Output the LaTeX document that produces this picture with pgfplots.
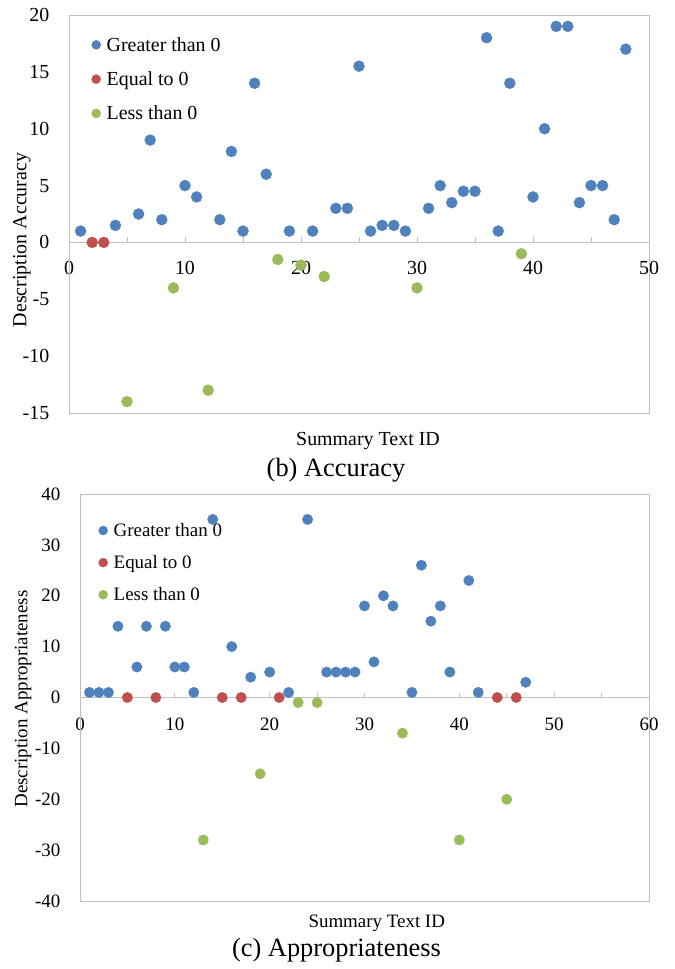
\documentclass[border=0pt]{standalone}
\usepackage{fontspec}
\setmainfont{Liberation Serif}
\usepackage{pgfplots}
\pgfplotsset{compat=1.18}
\definecolor{cblue}{HTML}{4F81BD}
\definecolor{cred}{HTML}{C0504D}
\definecolor{cgreen}{HTML}{9BBB59}
\definecolor{frame}{HTML}{BFBFBF}
\pgfplotsset{
  pt/.style={only marks, mark=*, mark size=#1,
    legend image code/.code={\draw[##1, mark size=4.5bp] plot coordinates {(0bp,0bp)};}},
  mystyle/.style={
    scale only axis,
    axis x line=middle, axis y line=left,
    axis line style={frame, -, line width=0.9bp},
    hide obscured x ticks=false, hide obscured y ticks=false,
    /pgf/number format/assume math mode=true,
    xticklabel style={anchor=base, inner sep=0pt, yshift=-30bp},
    yticklabel style={anchor=east, inner sep=0pt, xshift=-17bp},
    ytick style={draw=none},
    xtick style={frame, line width=0.9bp, yshift=2.5bp},
    major tick length=5bp,
    clip=false,
    legend cell align=left,
  },
}
\begin{document}
\begin{tikzpicture}
\useasboundingbox (0,0) rectangle (675bp,-969bp);
% ---------- (b) Accuracy ----------
\begin{axis}[mystyle,
  at={(69bp,-413bp)}, anchor=south west,
  width=580bp, height=398bp,
  xmin=0, xmax=50, ymin=-15, ymax=20,
  xtick={0,5,...,50}, xticklabels={0,,10,,20,,30,,40,,50},
  ytick={-15,-10,...,20},
  tick label style={font=\fontsize{20}{24}\selectfont},
  xlabel={Summary Text ID}, ylabel={Description Accuracy},
  every axis x label/.style={at={(axis description cs:0.5155,-0.0804)}, anchor=base, font=\fontsize{20}{24}\selectfont},
  every axis y label/.style={at={(axis description cs:-0.081,0.4347)}, rotate=90, anchor=center, font=\fontsize{20}{24}\selectfont},
  legend style={at={(axis description cs:0,1)}, anchor=north west, xshift=22.5bp, yshift=-20bp,
    draw=none, fill=none, inner sep=0pt, row sep=15bp, column sep=4bp, font=\fontsize{20}{24}\selectfont},
]
\draw[frame, line width=0.9bp] (rel axis cs:0,0) rectangle (rel axis cs:1,1);
\addplot[pt=5.5bp, cblue] coordinates {
(1,1)(4,1.5)(6,2.5)(7,9)(8,2)(10,5)(11,4)(13,2)(14,8)(15,1)(16,14)(17,6)(19,1)(21,1)
(23,3)(24,3)(25,15.5)(26,1)(27,1.5)(28,1.5)(29,1)(31,3)(32,5)(33,3.5)(34,4.5)(35,4.5)
(36,18)(37,1)(38,14)(40,4)(41,10)(42,19)(43,19)(44,3.5)(45,5)(46,5)(47,2)(48,17)};
\addlegendentry{Greater than 0}
\addplot[pt=5.5bp, cred] coordinates {(2,0)(3,0)};
\addlegendentry{Equal to 0}
\addplot[pt=5.5bp, cgreen] coordinates {
(5,-14)(9,-4)(12,-13)(18,-1.5)(20,-2)(22,-3)(30,-4)(39,-1)};
\addlegendentry{Less than 0}
\end{axis}
\node[anchor=base, font=\fontsize{26.5}{30}\selectfont] at (336bp,-476.5bp) {(b) Accuracy};
% ---------- (c) Appropriateness ----------
\begin{axis}[mystyle,
  at={(80bp,-901bp)}, anchor=south west,
  width=569bp, height=407bp,
  xmin=0, xmax=60, ymin=-40, ymax=40,
  xtick={0,5,...,60}, xticklabels={0,,10,,20,,30,,40,,50,,60},
  ytick={-40,-30,...,40},
  tick label style={font=\fontsize{19}{23}\selectfont},
  xlabel={Summary Text ID}, ylabel={Description Appropriateness},
  every axis x label/.style={at={(axis description cs:0.5215,-0.0639)}, anchor=base, font=\fontsize{19}{23}\selectfont},
  every axis y label/.style={at={(axis description cs:-0.100,0.4963)}, rotate=90, anchor=center, font=\fontsize{19}{23}\selectfont},
  legend style={at={(axis description cs:0,1)}, anchor=north west, xshift=18.5bp, yshift=-27bp,
    draw=none, fill=none, inner sep=0pt, row sep=13.5bp, column sep=4bp, font=\fontsize{19}{22.8}\selectfont},
]
\draw[frame, line width=0.9bp] (rel axis cs:0,0) rectangle (rel axis cs:1,1);
\addplot[pt=5.2bp, cblue] coordinates {
(1,1)(2,1)(3,1)(4,14)(6,6)(7,14)(9,14)(10,6)(11,6)(12,1)(14,35)(16,10)(18,4)(20,5)
(22,1)(24,35)(26,5)(27,5)(28,5)(29,5)(30,18)(31,7)(32,20)(33,18)(35,1)(36,26)(37,15)
(38,18)(39,5)(41,23)(42,1)(47,3)};
\addlegendentry{Greater than 0}
\addplot[pt=5.2bp, cred] coordinates {(5,0)(8,0)(15,0)(17,0)(21,0)(44,0)(46,0)};
\addlegendentry{Equal to 0}
\addplot[pt=5.2bp, cgreen] coordinates {
(13,-28)(19,-15)(23,-1)(25,-1)(34,-7)(40,-28)(45,-20)};
\addlegendentry{Less than 0}
\end{axis}
\node[anchor=base, font=\fontsize{26.5}{30}\selectfont] at (336.5bp,-956.5bp) {(c) Appropriateness};
\end{tikzpicture}
\end{document}
